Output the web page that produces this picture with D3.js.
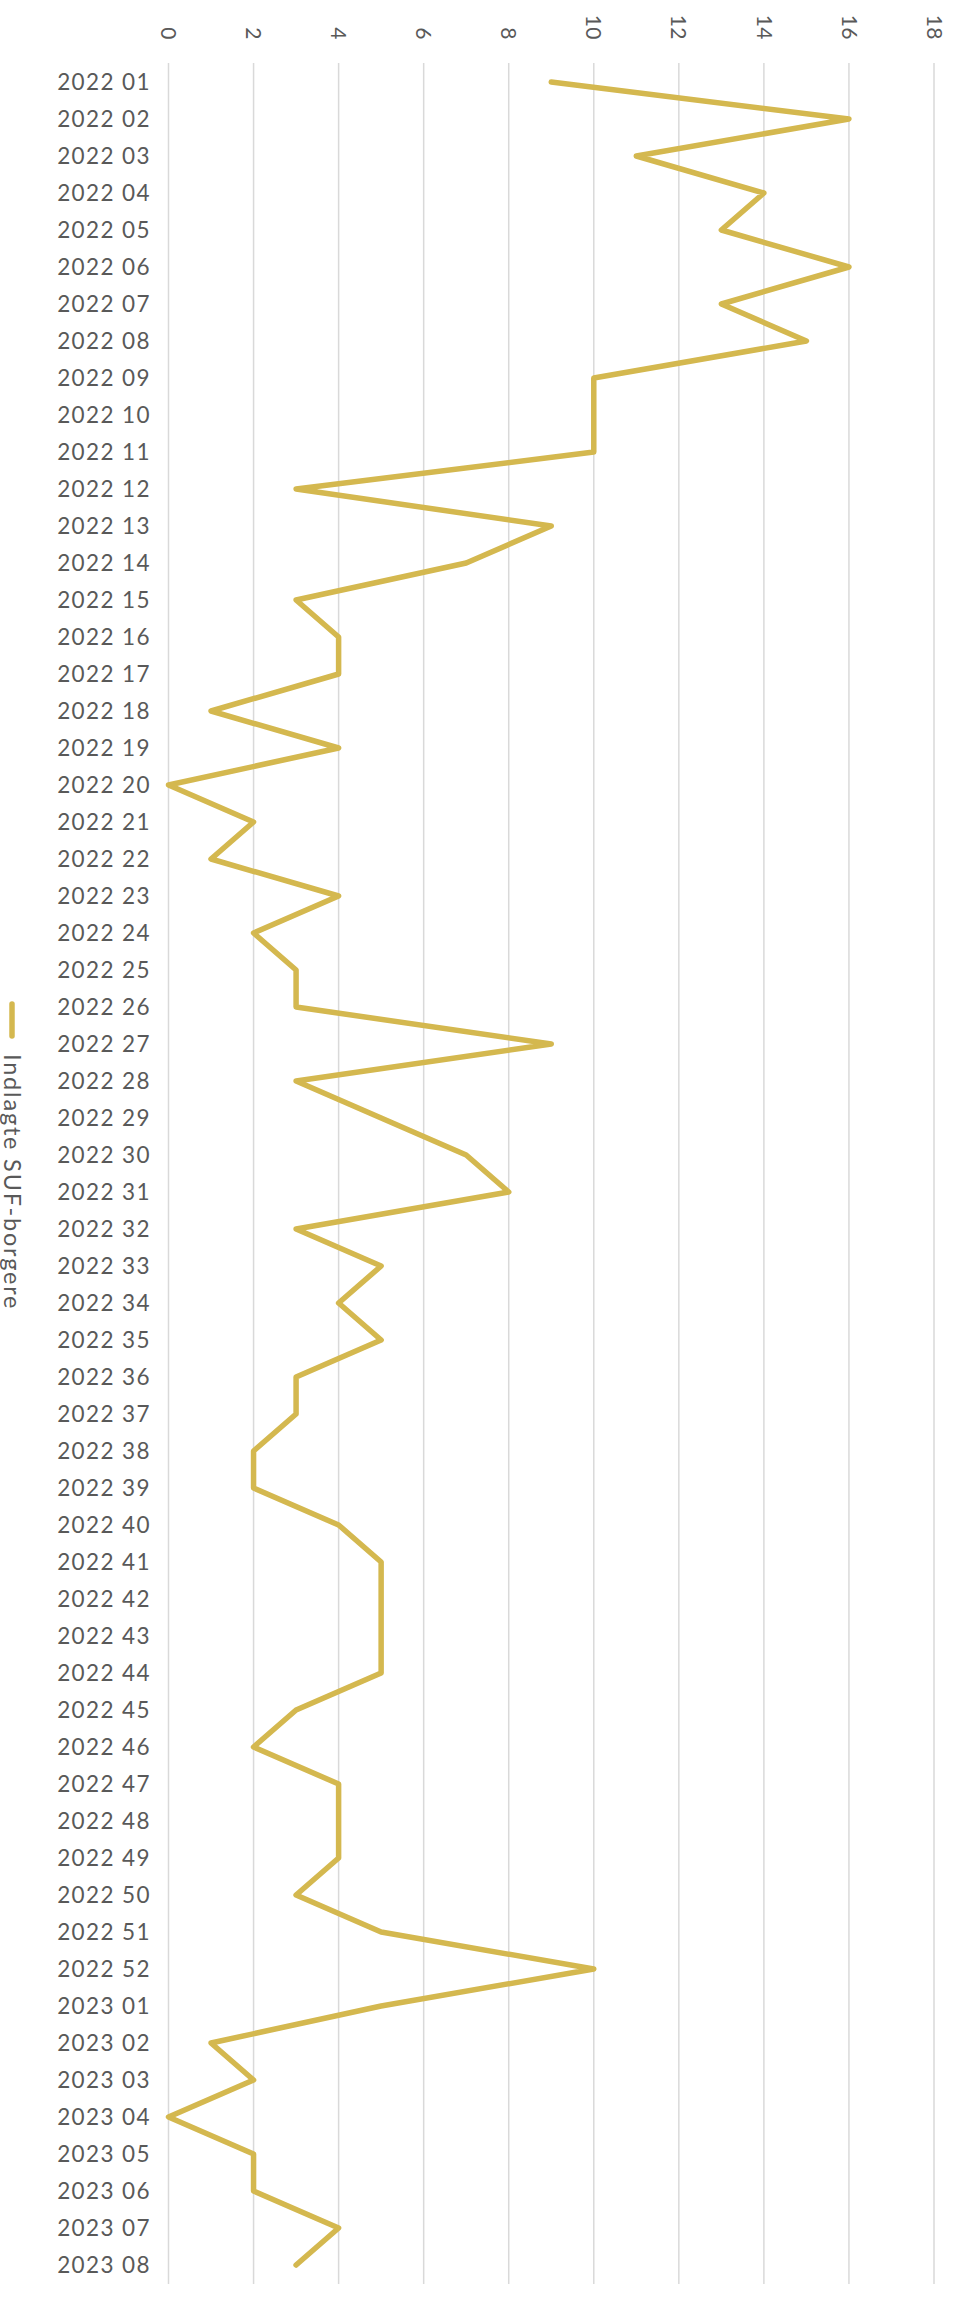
<!DOCTYPE html>
<html>
<head>
<meta charset="utf-8">
<script src="https://cdn.jsdelivr.net/npm/d3@7"></script>
<style>
  body { margin: 0; background: #fff; }
  text { font-family: Lato, "Open Sans", sans-serif; fill: #595959; }
</style>
</head>
<body>
<div id="chart"></div>
<script>
var width = 955
var height = 2300

// uger (år + ugenummer)
var weeks2022 = ['01','02','03','04','05','06','07','08','09','10','11','12','13','14','15','16','17','18','19','20',
  '21','22','23','24','25','26','27','28','29','30','31','32','33','34','35','36','37','38','39','40',
  '41','42','43','44','45','46','47','48','49','50','51','52']
var weeks2023 = ['01','02','03','04','05','06','07','08']
var categories = weeks2022.map(function (w) { return '2022 ' + w })
  .concat(weeks2023.map(function (w) { return '2023 ' + w }))

// Indlagte SUF-borgere pr. uge
var values = [9, 16, 11, 14, 13, 16, 13, 15, 10, 10, 10, 3, 9, 7, 3, 4, 4, 1, 4, 0,
  2, 1, 4, 2, 3, 3, 9, 3, 5, 7, 8, 3, 5, 4, 5, 3, 3, 2, 2, 4,
  5, 5, 5, 5, 3, 2, 4, 4, 4, 3, 5, 10,
  5, 1, 2, 0, 2, 2, 4, 3]

var xTicks = [0, 2, 4, 6, 8, 10, 12, 14, 16, 18]
var seriesName = 'Indlagte SUF-borgere'
var lineColor = '#d4b84f'

var svg = d3.select('#chart').append('svg')
    .attr('width', width)
    .attr('height', height)

var x = d3.scaleLinear().domain([0, 18]).range([168.5, 934])
var y = d3.scaleBand().domain(categories).range([63.5, 2283.5])

// gitterlinjer
svg.append('g')
    .selectAll('line')
    .data(xTicks)
    .enter().append('line')
    .attr('x1', function (d) { return x(d) })
    .attr('x2', function (d) { return x(d) })
    .attr('y1', 63)
    .attr('y2', 2284)
    .attr('stroke', '#d9d9d9')
    .attr('stroke-width', 1.5)

// x-akse øverst, roterede etiketter
var xAxis = svg.append('g')
    .attr('transform', 'translate(0,40)')
    .call(d3.axisTop(x).tickValues(xTicks).tickSize(0).tickPadding(0))
xAxis.select('.domain').remove()
xAxis.selectAll('text')
    .attr('transform', 'rotate(90)')
    .attr('x', 0)
    .attr('y', 0)
    .attr('dy', '0.35em')
    .attr('text-anchor', 'end')
    .style('font-size', '21px')
    .style('font-family', 'Lato, sans-serif')
    .style('letter-spacing', '0.5px')
    .style('fill', '#595959')
xAxis.selectAll('.tick')
    .attr('transform', function (d) { return 'translate(' + x(d) + ',0)' })

// kategori-akse
var yAxis = svg.append('g')
    .attr('transform', 'translate(151,0)')
    .call(d3.axisLeft(y).tickSize(0).tickPadding(0))
yAxis.select('.domain').remove()
yAxis.selectAll('text')
    .attr('dy', '0.35em')
    .style('font-size', '22.5px')
    .style('font-family', 'Lato, sans-serif')
    .style('letter-spacing', '1.4px')
    .style('fill', '#595959')

// linjen
var line = d3.line()
    .x(function (d) { return x(d.v) })
    .y(function (d) { return y(d.c) + y.bandwidth() / 2 })

var data = categories.map(function (c, i) { return { c: c, v: values[i] } })

svg.append('path')
    .datum(data)
    .attr('d', line)
    .attr('fill', 'none')
    .attr('stroke', lineColor)
    .attr('stroke-width', 5.5)
    .attr('stroke-linejoin', 'round')
    .attr('stroke-linecap', 'round')

// legende (roteret)
var legend = svg.append('g').attr('transform', 'translate(12,1002)')
legend.append('line')
    .attr('x1', 0).attr('x2', 0)
    .attr('y1', 2).attr('y2', 34)
    .attr('stroke', lineColor)
    .attr('stroke-width', 5.5)
    .attr('stroke-linecap', 'round')
legend.append('text')
    .attr('transform', 'translate(0,52) rotate(90)')
    .attr('dy', '0.35em')
    .style('font-size', '23.5px')
    .style('letter-spacing', '1.8px')
    .text(seriesName)
</script>
</body>
</html>
